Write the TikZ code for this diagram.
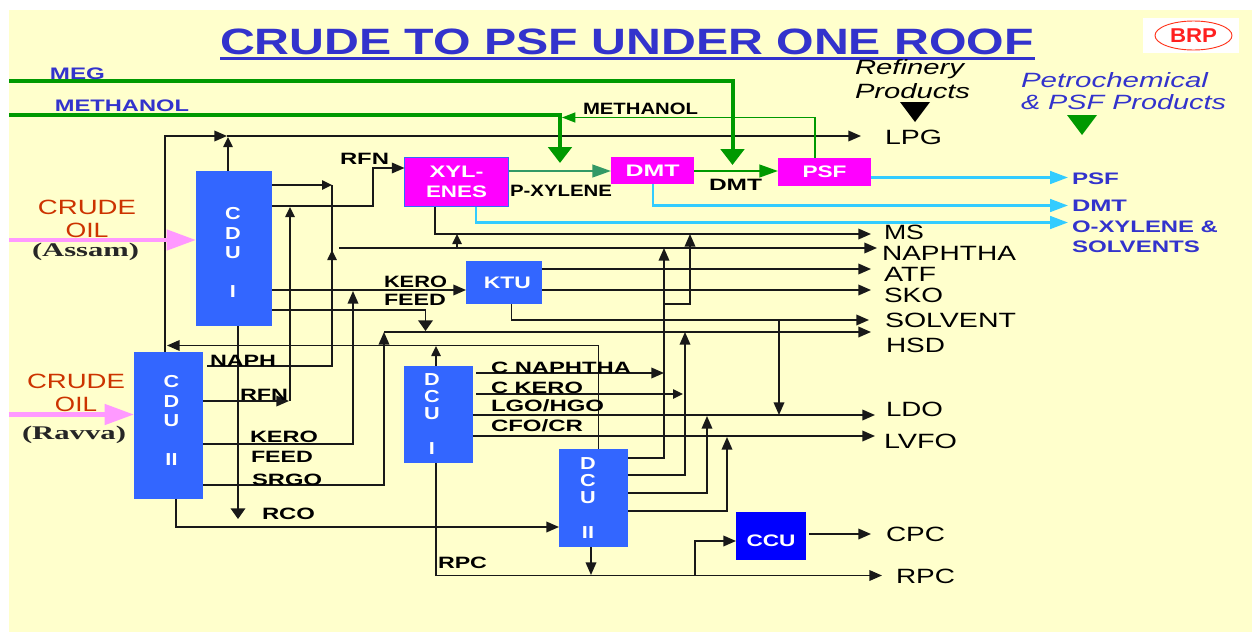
\documentclass[tikz,border=0pt]{standalone}
\usepackage{fontspec}
\usepackage{graphicx}
\usetikzlibrary{arrows.meta,shapes.geometric}
\setmainfont{Liberation Sans}
\newfontfamily\serifb{Liberation Serif}[BoldFont=* Bold]
\definecolor{bgy}{HTML}{FFFFCC}
\definecolor{ublue}{HTML}{3366FF}
\definecolor{ttlblue}{HTML}{3333CC}
\definecolor{gr}{HTML}{009900}
\definecolor{teal}{HTML}{339966}
\definecolor{cy}{HTML}{33CCFF}
\definecolor{pk}{HTML}{FF99FF}
\definecolor{crude}{HTML}{CC3300}
\definecolor{mg}{HTML}{FF00FF}
\definecolor{logored}{HTML}{FF2020}
\newbox\fitbox
\newcommand{\fitw}[2]{\setbox\fitbox\hbox{#2}\edef\fitd{\the\wd\fitbox}\pgfmathsetmacro\fitr{#1*0.75/\fitd}\scalebox{\fitr}[1]{\box\fitbox}}
\newcommand{\colt}[1]{\scalebox{1.25}[1]{\begin{tabular}{@{}c@{}}#1\end{tabular}}}
\tikzset{
  txt/.style={anchor=west,inner sep=0pt,outer sep=0pt},
  blab/.style={txt,font=\fontsize{12.3}{14}\selectfont\bfseries,text=black},
  rlab/.style={txt,font=\fontsize{15.5}{17}\selectfont,text=black},
  bluel/.style={txt,font=\fontsize{12.5}{14}\selectfont\bfseries,text=ttlblue},
  crudel/.style={txt,font=\fontsize{15.5}{17}\selectfont,text=crude},
  placel/.style={txt,font=\fontsize{14.5}{16}\serifb\bfseries\selectfont,text=black!85},
  itl/.style={txt,font=\fontsize{15.5}{17}\selectfont\itshape},
  unit/.style={fill=ublue,inner sep=0pt,outer sep=0pt},
  mag/.style={fill=mg,inner sep=0pt,outer sep=0pt,text=white,font=\fontsize{12.5}{15}\selectfont\bfseries,align=center},
  colu/.style={inner sep=0pt,outer sep=0pt,text=white,font=\fontsize{13}{14.6}\selectfont\bfseries},
  line/.style={draw=black!90,line width=1.1pt},
  fl/.style={line,-{Triangle[length=9.5pt,width=8pt]}},
  fls/.style={line,-{Triangle[length=7.5pt,width=7pt]}},
  flb/.style={line,-{Triangle[length=8pt,width=11pt]}},
  cyl/.style={draw=cy,line width=2pt,-{Triangle[length=13.5pt,width=9.5pt]}},
  bigg/.style={draw=gr,line width=3pt,-{Triangle[length=12pt,width=17.5pt]}},
  midg/.style={line width=1.7pt,-{Triangle[length=14pt,width=9.5pt]}},
  pka/.style={draw=pk,line width=3.5pt,-{Triangle[length=22pt,width=15pt]}},
}
\begin{document}
\begin{tikzpicture}[x=0.75pt,y=-0.75pt]
\useasboundingbox (0,0) rectangle (1258,632);
\fill[white] (0,0) rectangle (1258,632);
\fill[bgy] (9,10) rectangle (1252,632);
% title
\node[txt,font=\fontsize{27.5}{30}\selectfont\bfseries,text=ttlblue] (title) at (220,41.5) {\fitw{814}{CRUDE TO PSF UNDER ONE ROOF}};
\fill[ttlblue] (220,56.5) rectangle (1035,59.5);
% logo
\fill[white] (1143,18) rectangle (1239,53);
\node[ellipse,draw=logored!80!orange,line width=0.7pt,inner sep=0pt,minimum width=57.75pt,minimum height=21.75pt,text=logored,font=\fontsize{15}{16}\selectfont\bfseries] (logo) at (1193.5,35.5) {\fitw{47}{BRP}};
% process units
\node[unit,minimum width=57pt,minimum height=116.25pt] (cdu1) at (234,248.5) {};
\node[unit,minimum width=51.75pt,minimum height=110.25pt] (cdu2) at (168.5,425.5) {};
\node[unit,minimum width=51.75pt,minimum height=72.75pt] (dcu1) at (438,414.5) {};
\node[unit,minimum width=51.75pt,minimum height=73.5pt] (dcu2) at (593.5,498) {};
\node[unit,text=white,font=\fontsize{12.5}{14}\selectfont\bfseries,minimum width=57pt,minimum height=32.25pt] (ktu) at (504,282.5) {\hspace{5pt}\fitw{47}{KTU}};
\node[fill=blue,inner sep=0pt,outer sep=0pt,text=white,font=\fontsize{12.5}{14}\selectfont\bfseries,text height=15.5pt,minimum width=52.5pt,minimum height=36pt] (ccu) at (771,536) {\fitw{49}{CCU}};
\node[mag,draw=ublue,line width=0.8pt,minimum width=78pt,minimum height=37pt] (xyl) at (456.5,182) {\fitw{54}{XYL-}\\[0pt]\fitw{61}{ENES}};
\node[mag,minimum width=62.25pt,minimum height=20.25pt] (dmt) at (652.5,170.5) {\fitw{54}{DMT}};
\node[mag,minimum width=69.75pt,minimum height=21pt] (psf) at (824.5,172) {\fitw{44}{PSF}};
% unit captions
\node[colu] (cdu1t) at (233,255) {\colt{C\\D\\U\\ \\I}};
\node[colu] (cdu2t) at (171.5,423) {\colt{C\\D\\U\\ \\II}};
\node[colu,font=\fontsize{13}{13.1}\selectfont\bfseries] (dcu1t) at (432,416.5) {\colt{D\\C\\U\\ \\I}};
\node[colu,font=\fontsize{13}{13.1}\selectfont\bfseries] (dcu2t) at (588,500.5) {\colt{D\\C\\U\\ \\II}};
% free ends and junctions
\coordinate (lpgT) at (861,136);
\coordinate (msT) at (871,234);
\coordinate (napT) at (877,248);
\coordinate (atfT) at (871,269);
\coordinate (skoT) at (871,290);
\coordinate (solT) at (869,320);
\coordinate (hsdT) at (871,332);
\coordinate (ldoT) at (875,415);
\coordinate (lvfT) at (875,436);
\coordinate (cpcT) at (871,534);
\coordinate (rpcT) at (882,575.5);
\coordinate (psfT) at (1068,177.5);
\coordinate (dmtT) at (1068,205.5);
\coordinate (oxT) at (1068,222.5);
\coordinate (busL) at (165,136);
\coordinate (busJ) at (227,136);
\coordinate (naphS) at (207,366);
\coordinate (naphJ) at (332,366);
\coordinate (naphU) at (332,250);
\coordinate (naphE) at (332,185);
\coordinate (napS) at (339,248);
\coordinate (hsdJ) at (384,332);
\coordinate (solJ) at (779,320);
\coordinate (msJ) at (457,248);
\coordinate (msK) at (457,234);
\coordinate (cnS) at (476,373);
\coordinate (ckS) at (476,394);
\coordinate (brA) at (664,304);
\coordinate (rpcA) at (695,575.5);
\coordinate (cpcS) at (809,534);
% black connectors
\draw[fl] (cdu2.north -| busL) -- (busL) -- (busJ);
\draw[fl] (busJ) -- (lpgT);
\draw[fls] (228,0 |- cdu1.north) -- (228,137);
\draw[line] (naphS) -- (naphJ) -- (naphE);
\draw[fls] (naphJ) -- (naphU);
\draw[fls] (cdu1.east |- naphE) -- (naphE);
\draw[fl] (napS) -- (napT);
\draw[fl] (cdu1.east |- 0,206) -- (373,206) -- (373,168) -- (xyl.west |- 0,168);
\draw[fl] (cdu2.east |- 0,401) -- (289,401);
\draw[fls] (290,401) -- (290,207);
\draw[fl] (cdu1.east |- 0,290) -- (ktu.west |- 0,290);
\draw[fl] (cdu2.east |- 0,444) -- (353,444) -- (353,291);
\draw[flb] (cdu1.east |- 0,310) -- (425.5,310) -- (425.5,331);
\draw[flb] (238,0 |- cdu1.south) -- (238,519);
\draw[fl] (cdu2.east |- 0,485) -- (384,485) -- (hsdJ);
\draw[fl] (hsdJ) -- (hsdT);
\draw[fl] (598.5,0 |- dcu2.north) -- (598.5,345.5) -- (167,345.5);
\draw[fl] (511.5,0 |- ktu.south) -- (511.5,320) -- (solT);
\draw[fl] (solJ) -- (779,415);
\draw[fl] (435,0 |- xyl.south) -- (435,234) -- (msT);
\draw[fls] (msJ) -- (msK);
\draw[fl] (ktu.east |- atfT) -- (atfT);
\draw[fl] (ktu.east |- skoT) -- (skoT);
\draw[fl] (dcu2.east |- 0,458) -- (664,458) -- (664,248);
\draw[fl] (brA) -- (690,304) -- (690,234);
\draw[fl] (dcu2.east |- 0,475) -- (685,475) -- (685,332);
\draw[fl] (dcu2.east |- 0,493) -- (707,493) -- (707,416);
\draw[fl] (dcu2.east |- 0,511) -- (727,511) -- (727,437);
\draw[fl] (cnS) -- (664,373);
\draw[fls] (ckS) -- (683,394);
\draw[fl] (dcu1.east |- ldoT) -- (ldoT);
\draw[fl] (dcu1.east |- lvfT) -- (lvfT);
\draw[fls] (436,0 |- dcu1.north) -- (436,346);
\draw[fl] (436,0 |- dcu1.south) -- (436,575.5) -- (rpcT);
\draw[fl] (176,0 |- cdu2.south) -- (176,527) -- (dcu2.west |- 0,527);
\draw[fl] (591,0 |- dcu2.south) -- (591,575);
\draw[fl] (rpcA) -- (695,541) -- (ccu.west |- 0,541);
\draw[fl] (cpcS) -- (cpcT);
% pink feeds
\coordinate (asS) at (9,240);
\coordinate (raS) at (9,414.5);
\draw[pka] (asS) -- (cdu1.west |- asS);
\draw[pka] (raS) -- (cdu2.west |- raS);
% green lines
\coordinate (megS) at (9,81);
\coordinate (metS) at (9,115);
\draw[bigg] (megS) -- (732.5,81) -- (732.5,165);
\draw[bigg] (metS) -- (560,115) -- (560,163);
\draw[draw=gr,line width=1pt,-{Triangle[length=10pt,width=7.5pt]}] (815,0 |- psf.north) -- (815,117.5) -- (562,117.5);
\draw[midg,draw=teal] (xyl.east |- 0,171) -- (dmt.west |- 0,171);
\draw[midg,draw=gr] (dmt.east |- 0,171) -- (psf.west |- 0,171);
% cyan product lines
\draw[cyl] (psf.east |- psfT) -- (psfT);
\draw[cyl] (653,0 |- dmt.south) -- (653,205.5) -- (dmtT);
\draw[cyl] (476,0 |- xyl.south) -- (476,222.5) -- (oxT);
% triangles
\fill[black] (900,102) -- (930,102) -- (915,122) -- cycle;
\fill[gr] (1067,115) -- (1097,115) -- (1082,135) -- cycle;
% labels
\node[bluel] (meg) at (50,74) {\fitw{55}{MEG}};
\node[bluel] (meth) at (55,105.5) {\fitw{134}{METHANOL}};
\node[blab] (meth2) at (583,108.5) {\fitw{115}{METHANOL}};
\node[crudel] (c1) at (38,207.5) {\fitw{98}{CRUDE}};
\node[crudel] (o1) at (65.5,230.5) {\fitw{43}{OIL}};
\node[placel] (assam) at (32,251.5) {\fitw{107}{(Assam)}};
\node[crudel] (c2) at (27,381.5) {\fitw{98}{CRUDE}};
\node[crudel] (o2) at (55,404.5) {\fitw{42}{OIL}};
\node[placel] (ravva) at (22,434.5) {\fitw{104}{(Ravva)}};
\node[blab] (l1) at (340,158.5) {\fitw{49}{RFN}};
\node[blab] (l2) at (510,190.5) {\fitw{102}{P-XYLENE}};
\node[blab] (l3) at (709,184.5) {\fitw{53}{DMT}};
\node[blab] (l4) at (384,281.5) {\fitw{63}{KERO}};
\node[blab] (l5) at (384,299.5) {\fitw{62}{FEED}};
\node[blab] (l6) at (210,360.5) {\fitw{66}{NAPH}};
\node[blab] (l7) at (240,394.5) {\fitw{48}{RFN}};
\node[blab] (l8) at (250,436.5) {\fitw{68}{KERO}};
\node[blab] (l9) at (251,456.5) {\fitw{62}{FEED}};
\node[blab] (l10) at (252,479.5) {\fitw{70}{SRGO}};
\node[blab] (l11) at (262,513.5) {\fitw{53}{RCO}};
\node[blab] (l12) at (491,367.5) {\fitw{140}{C NAPHTHA}};
\node[blab] (l13) at (491,387.5) {\fitw{92}{C KERO}};
\node[blab] (l14) at (491,405.5) {\fitw{113}{LGO/HGO}};
\node[blab] (l15) at (491,425.5) {\fitw{92}{CFO/CR}};
\node[blab] (l16) at (438,562.5) {\fitw{49}{RPC}};
\node[rlab] (r1) at (885,137.5) {\fitw{57}{LPG}};
\node[rlab] (r2) at (884,232.5) {\fitw{40}{MS}};
\node[rlab] (r3) at (882,253.5) {\fitw{134}{NAPHTHA}};
\node[rlab] (r4) at (884,274.5) {\fitw{52}{ATF}};
\node[rlab] (r5) at (884,295.5) {\fitw{59}{SKO}};
\node[rlab] (r6) at (885,320.5) {\fitw{131}{SOLVENT}};
\node[rlab] (r7) at (886,345.5) {\fitw{59}{HSD}};
\node[rlab] (r8) at (886,409.5) {\fitw{57}{LDO}};
\node[rlab] (r9) at (884,441.5) {\fitw{73}{LVFO}};
\node[rlab] (r10) at (886,534.5) {\fitw{59}{CPC}};
\node[rlab] (r11) at (896,576.5) {\fitw{59}{RPC}};
\node[bluel] (b1) at (1072,178.5) {\fitw{47}{PSF}};
\node[bluel] (b2) at (1072,205.5) {\fitw{55}{DMT}};
\node[bluel] (b3) at (1072,226.5) {\fitw{146}{O-XYLENE \&}};
\node[bluel] (b4) at (1072,246.5) {\fitw{128}{SOLVENTS}};
\node[itl,text=black] (i1) at (855,69) {\fitw{109}{Refinery}};
\node[itl,text=black] (i2) at (855,91) {\fitw{115}{Products}};
\node[itl,text=ttlblue] (i3) at (1021,80) {\fitw{187}{Petrochemical}};
\node[itl,text=ttlblue] (i4) at (1021,102) {\fitw{205}{\& PSF Products}};
\end{tikzpicture}
\end{document}
